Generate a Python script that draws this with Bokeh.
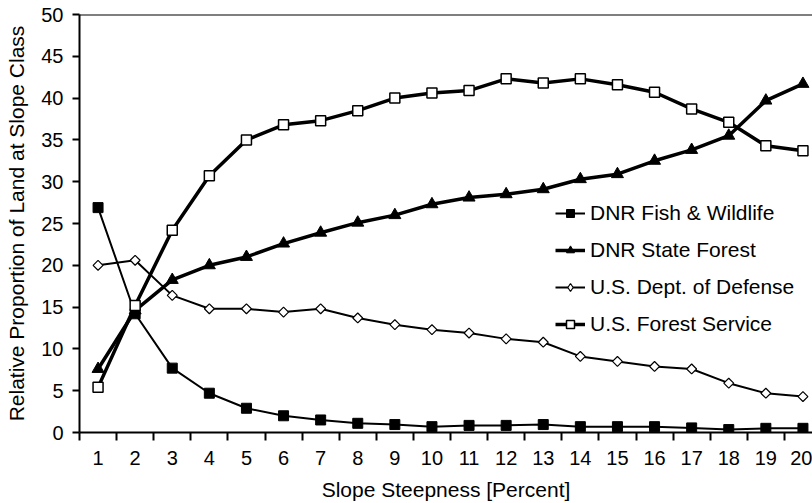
from bokeh.plotting import figure
from bokeh.models import (Range1d, FixedTicker, Span, Legend, LegendItem)
from bokeh.embed import file_html
from bokeh.resources import INLINE
import math

slope = list(range(1, 21))
fish_wildlife = [26.9, 14.2, 7.7, 4.7, 2.9, 2.0, 1.5, 1.1, 0.95, 0.7,
                 0.85, 0.85, 0.95, 0.7, 0.7, 0.7, 0.55, 0.35, 0.5, 0.5]
state_forest = [7.6, 14.6, 18.25, 20.0, 21.0, 22.6, 23.9, 25.1, 26.0, 27.3,
                28.1, 28.5, 29.1, 30.3, 30.9, 32.5, 33.8, 35.5, 39.7, 41.7]
dept_defense = [20.0, 20.6, 16.4, 14.8, 14.8, 14.4, 14.8, 13.7, 12.9, 12.3,
                11.9, 11.2, 10.8, 9.1, 8.5, 7.9, 7.6, 5.9, 4.7, 4.3]
forest_service = [5.4, 15.2, 24.2, 30.7, 35.0, 36.8, 37.3, 38.5, 40.0, 40.6,
                  40.9, 42.3, 41.8, 42.3, 41.6, 40.7, 38.7, 37.1, 34.3, 33.7]
y_ticks = list(range(0, 51, 5))
series_names = ["DNR Fish & Wildlife", "DNR State Forest",
                "U.S. Dept. of Defense", "U.S. Forest Service"]

FONT = "Liberation Sans"

p = figure(width=812, height=503, output_backend="svg", toolbar_location=None,
           x_range=Range1d(0.5, 0.5 + 733 / 37.1), y_range=Range1d(0, 50),
           min_border_left=79, min_border_right=0, min_border_top=14,
           min_border_bottom=71)
p.outline_line_color = None
p.grid.grid_line_color = None
p.background_fill_color = "white"
p.border_fill_color = "white"

# x axis
xa = p.xaxis[0]
xa.ticker = FixedTicker(ticks=slope, minor_ticks=[s - 0.5 for s in slope] + [20.5])
xa.major_tick_line_color = None
xa.major_tick_out = 8
xa.major_tick_in = 0
xa.minor_tick_out = 8
xa.minor_tick_in = 0
xa.minor_tick_line_color = "black"
xa.minor_tick_line_width = 2
xa.axis_line_width = 2
xa.major_label_standoff = 10
xa.major_label_text_font = FONT
xa.major_label_text_font_size = "20px"
xa.major_label_text_color = "black"
xa.axis_label = "Slope Steepness [Percent]"
xa.axis_label_text_font = FONT
xa.axis_label_text_font_size = "21px"
xa.axis_label_text_font_style = "normal"
xa.axis_label_text_color = "black"
xa.axis_label_standoff = 10

# y axis
ya = p.yaxis[0]
ya.ticker = FixedTicker(ticks=y_ticks)
ya.major_tick_out = 7
ya.major_tick_in = 0
ya.major_tick_line_width = 2
ya.minor_tick_line_color = None
ya.axis_line_width = 2
ya.major_label_standoff = 9
ya.major_label_text_font = FONT
ya.major_label_text_font_size = "20px"
ya.major_label_text_color = "black"
ya.axis_label = "Relative Proportion of Land at Slope Class"
ya.axis_label_text_font = FONT
ya.axis_label_text_font_size = "21px"
ya.axis_label_text_font_style = "normal"
ya.axis_label_text_color = "black"
ya.axis_label_standoff = 10

# top border line
p.add_layout(Span(location=50, dimension="width", line_color="black", line_width=2))

# U.S. Dept. of Defense
l_def = p.line(slope, dept_defense, line_color="black", line_width=2)
# diamond glyph used for the legend (hidden under the rotated squares in the plot)
m_def_leg = p.scatter(slope, dept_defense, marker="diamond", size=8,
                      fill_color="white", line_color="black", line_width=1.2)
m_def = p.scatter(slope, dept_defense, marker="square", size=7, angle=math.pi / 4,
                  fill_color="white", line_color="black", line_width=1.2)
# DNR Fish & Wildlife
l_fw = p.line(slope, fish_wildlife, line_color="black", line_width=2)
m_fw = p.scatter(slope, fish_wildlife, marker="square", size=10,
                 fill_color="black", line_color="black")
# DNR State Forest
l_sf = p.line(slope, state_forest, line_color="black", line_width=3.5)
m_sf = p.scatter(slope, state_forest, marker="triangle", size=12,
                 fill_color="black", line_color="black")
# U.S. Forest Service
l_fs = p.line(slope, forest_service, line_color="black", line_width=3.5)
m_fs = p.scatter(slope, forest_service, marker="square", size=10,
                 fill_color="white", line_color="black", line_width=1.5)

items = [
    LegendItem(label=series_names[0], renderers=[l_fw, m_fw]),
    LegendItem(label=series_names[1], renderers=[l_sf, m_sf]),
    LegendItem(label=series_names[2], renderers=[l_def, m_def_leg]),
    LegendItem(label=series_names[3], renderers=[l_fs, m_fs]),
]
legend = Legend(items=items, location=(476, 96), orientation="vertical",
                glyph_width=30, glyph_height=20, label_height=20, spacing=13,
                label_standoff=5, padding=0, margin=0,
                border_line_color=None, background_fill_alpha=0,
                label_text_font=FONT, label_text_font_size="21px",
                label_text_color="black")
p.add_layout(legend)

open("out.html", "w").write(file_html(p, INLINE))
